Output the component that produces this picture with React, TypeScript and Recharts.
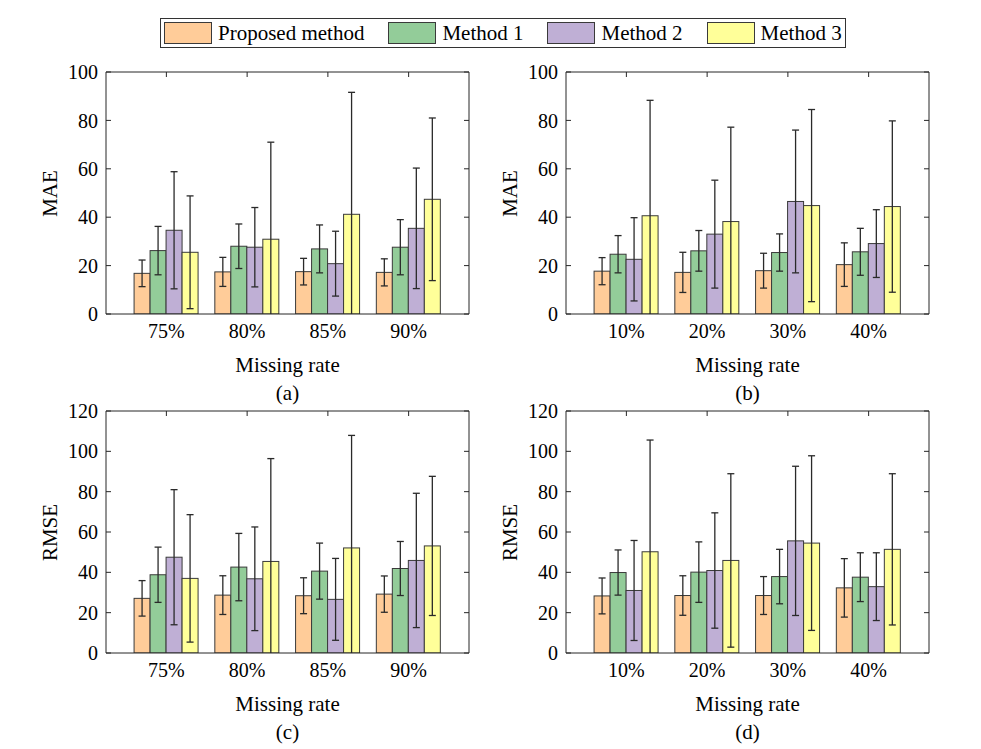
import React from 'react';
import { BarChart, Bar, XAxis, YAxis } from 'recharts';

const FONT = "'Liberation Serif', 'Times New Roman', serif";

const seriesNames = ['Proposed method', 'Method 1', 'Method 2', 'Method 3'];
const seriesColors = ['#FFCC99', '#93CC99', '#BFAFD5', '#FFFF99'];

const ratesHigh = ['75%', '80%', '85%', '90%'];
const ratesLow = ['10%', '20%', '30%', '40%'];

const maeTicks = [0, 20, 40, 60, 80, 100];
const rmseTicks = [0, 20, 40, 60, 80, 100, 120];

// (a) MAE, high missing rates
const maeA_proposed = [16.8, 17.4, 17.5, 17.2];
const maeA_proposedSd = [5.5, 6.0, 5.5, 5.6];
const maeA_m1 = [26.2, 28.0, 26.9, 27.6];
const maeA_m1Sd = [10.0, 9.2, 9.9, 11.4];
const maeA_m2 = [34.6, 27.6, 20.8, 35.4];
const maeA_m2Sd = [24.2, 16.4, 13.4, 24.9];
const maeA_m3 = [25.5, 30.9, 41.2, 47.4];
const maeA_m3Sd = [23.3, 40.1, 50.4, 33.6];

// (b) MAE, low missing rates
const maeB_proposed = [17.7, 17.2, 17.9, 20.4];
const maeB_proposedSd = [5.6, 8.3, 7.2, 9.0];
const maeB_m1 = [24.7, 26.1, 25.4, 25.7];
const maeB_m1Sd = [7.7, 8.4, 7.7, 9.7];
const maeB_m2 = [22.6, 33.0, 46.5, 29.1];
const maeB_m2Sd = [17.2, 22.3, 29.5, 14.0];
const maeB_m3 = [40.6, 38.2, 44.8, 44.4];
const maeB_m3Sd = [47.7, 39.0, 39.7, 35.4];

// (c) RMSE, high missing rates
const rmseC_proposed = [27.1, 28.7, 28.4, 29.2];
const rmseC_proposedSd = [8.8, 9.6, 8.9, 9.0];
const rmseC_m1 = [38.8, 42.6, 40.6, 41.9];
const rmseC_m1Sd = [13.7, 16.7, 13.9, 13.4];
const rmseC_m2 = [47.5, 36.8, 26.6, 45.9];
const rmseC_m2Sd = [33.5, 25.7, 20.3, 33.3];
const rmseC_m3 = [37.0, 45.4, 52.1, 53.1];
const rmseC_m3Sd = [31.6, 51.0, 55.8, 34.5];

// (d) RMSE, low missing rates
const rmseD_proposed = [28.3, 28.5, 28.5, 32.3];
const rmseD_proposedSd = [8.9, 9.8, 9.4, 14.5];
const rmseD_m1 = [39.9, 40.1, 37.9, 37.6];
const rmseD_m1Sd = [11.2, 15.0, 13.5, 12.1];
const rmseD_m2 = [31.0, 40.9, 55.6, 32.9];
const rmseD_m2Sd = [24.8, 28.6, 37.0, 16.8];
const rmseD_m3 = [50.2, 45.9, 54.5, 51.4];
const rmseD_m3Sd = [55.4, 43.0, 43.3, 37.5];

const keys = ['p', 'm1', 'm2', 'm3'];

function buildTable(cats: string[], vals: number[][], sds: number[][]) {
  return cats.map((c, i) => {
    const row: any = { cat: c };
    keys.forEach((k, j) => {
      row[k] = vals[j][i];
      row[k + 'Sd'] = sds[j][i];
    });
    return row;
  });
}

const dataA = buildTable(ratesHigh, [maeA_proposed, maeA_m1, maeA_m2, maeA_m3], [maeA_proposedSd, maeA_m1Sd, maeA_m2Sd, maeA_m3Sd]);
const dataB = buildTable(ratesLow, [maeB_proposed, maeB_m1, maeB_m2, maeB_m3], [maeB_proposedSd, maeB_m1Sd, maeB_m2Sd, maeB_m3Sd]);
const dataC = buildTable(ratesHigh, [rmseC_proposed, rmseC_m1, rmseC_m2, rmseC_m3], [rmseC_proposedSd, rmseC_m1Sd, rmseC_m2Sd, rmseC_m3Sd]);
const dataD = buildTable(ratesLow, [rmseD_proposed, rmseD_m1, rmseD_m2, rmseD_m3], [rmseD_proposedSd, rmseD_m1Sd, rmseD_m2Sd, rmseD_m3Sd]);

const AX = '#262626';
const ERR = '#2a2a2a';
const NoTick = () => null;

// Bar rectangle plus its error bar; the pixel scale comes from the bar the library laid out
function BarWithError(props: any) {
  const { x, y, width, height, fill, payload, vKey } = props;
  const v = payload[vKey];
  const sd = payload[vKey + 'Sd'];
  const k = v > 0 ? height / v : 0;
  const base = y + height;
  const cx = x + width / 2;
  const yTop = y - sd * k;
  const yBot = Math.min(base, y + sd * k);
  const cap = 3.5;
  return (
    <g>
      <rect x={x} y={y} width={width} height={height} fill={fill} stroke="#3a3a3a" strokeWidth={1} />
      <line x1={cx} x2={cx} y1={yTop} y2={yBot} stroke={ERR} strokeWidth={1.3} />
      <line x1={cx - cap} x2={cx + cap} y1={yTop} y2={yTop} stroke={ERR} strokeWidth={1.3} />
      {yBot < base - 0.5 && <line x1={cx - cap} x2={cx + cap} y1={yBot} y2={yBot} stroke={ERR} strokeWidth={1.3} />}
    </g>
  );
}

const PLOT_W = 363;
const PLOT_H = 242;
const M_LEFT = 20;
const Y_W = 60;
const M_TOP = 10;
const M_RIGHT = 10;
const X_H = 30;
const M_BOTTOM = 10;

function Panel(props: {
  plotLeft: number;
  plotTop: number;
  data: any[];
  yTicks: number[];
  yLabel: string;
  caption: string;
}) {
  const { plotLeft, plotTop, data, yTicks, yLabel, caption } = props;
  const yMax = yTicks[yTicks.length - 1];
  const w = M_LEFT + Y_W + PLOT_W + M_RIGHT;
  const h = M_TOP + PLOT_H + X_H + M_BOTTOM;
  const left = plotLeft - M_LEFT - Y_W;
  const top = plotTop - M_TOP;
  const cx = plotLeft + PLOT_W / 2;
  const bottom = plotTop + PLOT_H;
  const textStyle: React.CSSProperties = {
    position: 'absolute',
    fontFamily: FONT,
    fontSize: 21,
    lineHeight: '21px',
    color: '#000',
    textAlign: 'center',
    whiteSpace: 'nowrap',
  };
  return (
    <>
      <div style={{ position: 'absolute', left, top, width: w, height: h }}>
        <BarChart
          width={w}
          height={h}
          data={data}
          margin={{ top: M_TOP, right: M_RIGHT, bottom: M_BOTTOM, left: M_LEFT }}
          barCategoryGap="10%"
          barGap={0}
        >
          <XAxis
            dataKey="cat"
            padding={{ left: 20, right: 20 }}
            tickLine={false}
            tickSize={6}
            tickMargin={4}
            axisLine={{ stroke: AX, strokeWidth: 1 }}
            tick={{ fontSize: 20, fill: '#000', fontFamily: FONT }}
            interval={0}
            height={X_H}
          />
          <XAxis
            xAxisId="top"
            dataKey="cat"
            orientation="top"
            mirror
            padding={{ left: 20, right: 20 }}
            tickSize={5}
            tick={NoTick}
            tickLine={{ stroke: AX }}
            axisLine={{ stroke: AX, strokeWidth: 1 }}
            interval={0}
          />
          <YAxis
            domain={[0, yMax]}
            ticks={yTicks}
            allowDataOverflow
            tickLine={false}
            tickSize={6}
            tickMargin={2}
            axisLine={{ stroke: AX, strokeWidth: 1 }}
            tick={{ fontSize: 20, fill: '#000', fontFamily: FONT }}
            width={Y_W}
            interval={0}
          />
          <YAxis
            yAxisId="lm"
            orientation="left"
            mirror
            domain={[0, yMax]}
            ticks={yTicks}
            allowDataOverflow
            tickSize={5}
            tick={NoTick}
            tickLine={{ stroke: AX }}
            axisLine={false}
            interval={0}
          />
          <YAxis
            yAxisId="r"
            orientation="right"
            mirror
            domain={[0, yMax]}
            ticks={yTicks}
            allowDataOverflow
            tickSize={5}
            tick={NoTick}
            tickLine={{ stroke: AX }}
            axisLine={{ stroke: AX, strokeWidth: 1 }}
            interval={0}
          />
          {keys.map((k, i) => (
            <Bar
              key={k}
              dataKey={k}
              name={seriesNames[i]}
              fill={seriesColors[i]}
              isAnimationActive={false}
              shape={(p: any) => <BarWithError {...p} vKey={k} />}
            />
          ))}
        </BarChart>
      </div>
      <div style={{ ...textStyle, left: cx - 100, width: 200, top: bottom + 41 }}>Missing rate</div>
      <div style={{ ...textStyle, left: cx - 50, width: 100, top: bottom + 69 }}>{caption}</div>
      <div
        style={{
          ...textStyle,
          left: plotLeft - 56 - 50,
          width: 100,
          top: plotTop + PLOT_H / 2 - 10.5,
          transform: 'rotate(-90deg)',
        }}
      >
        {yLabel}
      </div>
    </>
  );
}

function Legend() {
  return (
    <div
      style={{
        position: 'absolute',
        left: 160,
        top: 18,
        width: 686,
        height: 30,
        boxSizing: 'border-box',
        border: '1px solid #333',
        background: '#fff',
        display: 'flex',
        alignItems: 'center',
        paddingLeft: 3,
        fontFamily: FONT,
        fontSize: 21,
        color: '#000',
        whiteSpace: 'nowrap',
      }}
    >
      {seriesNames.map((n, i) => (
        <div key={n} style={{ display: 'flex', alignItems: 'center', marginRight: i < 3 ? 24 : 0 }}>
          <div
            style={{
              width: 48,
              height: 22,
              boxSizing: 'border-box',
              background: seriesColors[i],
              border: '1px solid #3a3a3a',
              marginRight: 6,
            }}
          />
          <span style={{ lineHeight: '22px' }}>{n}</span>
        </div>
      ))}
    </div>
  );
}

export default function App() {
  return (
    <div style={{ position: 'absolute', left: 0, top: 0, width: 981, height: 749, background: '#fff', overflow: 'hidden' }}>
      <Legend />
      <Panel plotLeft={106} plotTop={72} data={dataA} yTicks={maeTicks} yLabel="MAE" caption="(a)" />
      <Panel plotLeft={566} plotTop={72} data={dataB} yTicks={maeTicks} yLabel="MAE" caption="(b)" />
      <Panel plotLeft={106} plotTop={411} data={dataC} yTicks={rmseTicks} yLabel="RMSE" caption="(c)" />
      <Panel plotLeft={566} plotTop={411} data={dataD} yTicks={rmseTicks} yLabel="RMSE" caption="(d)" />
    </div>
  );
}
